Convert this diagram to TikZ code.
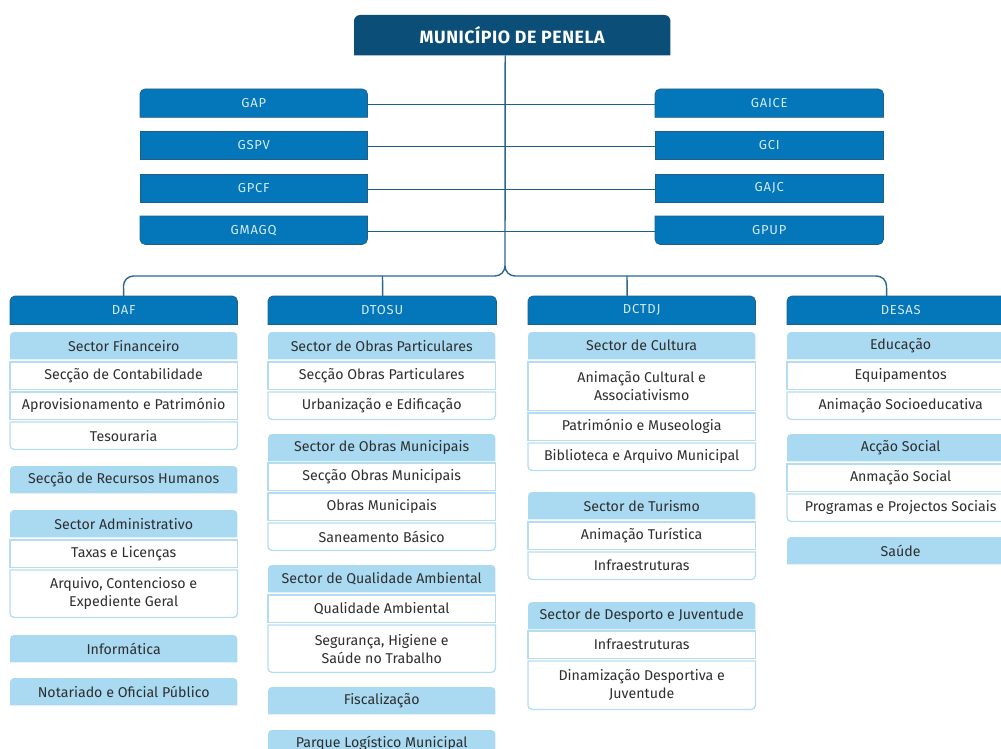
\documentclass[tikz,border=0pt]{standalone}
\usepackage{fontspec}
\setmainfont{Fira Sans}
\newfontfamily\trackfont[LetterSpace=6]{Fira Sans}
\newfontfamily\titlefont[LetterSpace=3]{Fira Sans}
\usetikzlibrary{calc}
\definecolor{titleblue}{HTML}{0B4F78}
\definecolor{midblue}{HTML}{0477BA}
\definecolor{edgeblue}{HTML}{1E5F88}
\definecolor{lineblue}{HTML}{2B6690}
\definecolor{lightblue}{HTML}{A9DAF2}
\definecolor{wedge}{HTML}{B5DDF2}
\definecolor{txtgray}{HTML}{2E2E2E}
\definecolor{paletext}{HTML}{D3EAF7}
\pgfdeclarelayer{bg}
\pgfsetlayers{bg,main}
\newcommand\shpT[3]{%
 \begin{pgfonlayer}{bg}
 \path[#2] (#1.south west) -- ([yshift=-#3]#1.north west) arc[start angle=180,end angle=90,radius=#3] -- ([xshift=-#3]#1.north east) arc[start angle=90,end angle=0,radius=#3] -- (#1.south east) -- cycle;
 \end{pgfonlayer}}
\newcommand\shpB[3]{%
 \begin{pgfonlayer}{bg}
 \path[#2] (#1.north west) -- ([yshift=#3]#1.south west) arc[start angle=180,end angle=270,radius=#3] -- ([xshift=-#3]#1.south east) arc[start angle=270,end angle=360,radius=#3] -- (#1.north east) -- cycle;
 \end{pgfonlayer}}
\newcommand\shpN[3]{%
 \begin{pgfonlayer}{bg}
 \path[#2] (#1.south west) rectangle (#1.north east);
 \end{pgfonlayer}}
% name, x, ytop, height, style, shape, text
\newcommand\itm[7]{%
 \node[itemtext, minimum height=#4pt, anchor=north west] (#1) at (#2,-#3) {#7};
 \csname shp#6\endcsname{#1}{#5}{4pt}}
\tikzset{
 itemtext/.style={inner sep=0pt, minimum width=227pt, align=center, text=txtgray, font=\fontsize{14.2}{18}\selectfont},
 lt/.style={fill=lightblue},
 wt/.style={fill=white, draw=wedge, line width=1.3pt},
 hd/.style={fill=midblue, draw=edgeblue, line width=0.7pt},
 sidetext/.style={inner sep=0pt, minimum height=28pt, anchor=north west, text=paletext, font=\trackfont\fontsize{13}{15}\selectfont},
 conn/.style={draw=lineblue, line width=1.4pt},
 sideconn/.style={draw=edgeblue, line width=1.2pt},
}
\begin{document}
\begin{tikzpicture}[x=1pt,y=1pt]
\useasboundingbox (0,0) rectangle (1001,-749);
\clip (0,0) rectangle (1001,-749);
% title
\node[inner sep=0pt, minimum width=316pt, minimum height=40pt, anchor=north west, text=white, font=\titlefont\bfseries\fontsize{17.8}{20}\selectfont] (title) at (354,-15) {MUNICÍPIO DE PENELA};
\shpT{title}{fill=titleblue}{6pt}
% side boxes
\node[sidetext, minimum width=227pt] (gap) at (140,-89) {GAP};
\node[sidetext, minimum width=227pt] (gspv) at (140,-131) {GSPV};
\node[sidetext, minimum width=227pt] (gpcf) at (140,-174) {GPCF};
\node[sidetext, minimum width=227pt] (gmagq) at (140,-216) {GMAGQ};
\node[sidetext, minimum width=228pt] (gaice) at (655,-89) {GAICE};
\node[sidetext, minimum width=228pt] (gci) at (655,-131) {GCI};
\node[sidetext, minimum width=228pt] (gajc) at (655,-174) {GAJC};
\node[sidetext, minimum width=228pt] (gpup) at (655,-216) {GPUP};
\shpT{gap}{hd}{5pt}\shpN{gspv}{hd}{5pt}\shpN{gpcf}{hd}{5pt}\shpB{gmagq}{hd}{5pt}
\shpT{gaice}{hd}{5pt}\shpN{gci}{hd}{5pt}\shpN{gajc}{hd}{5pt}\shpB{gpup}{hd}{5pt}
% department headers
\node[sidetext, minimum width=227pt] (daf) at (10,-296) {DAF};
\node[sidetext, minimum width=228pt] (dtosu) at (268,-296) {DTOSU};
\node[sidetext, minimum width=227pt] (dctdj) at (528,-296) {DCTDJ};
\node[sidetext, minimum width=227pt] (desas) at (787,-296) {DESAS};
\shpT{daf}{hd}{5pt}\shpT{dtosu}{hd}{5pt}\shpT{dctdj}{hd}{5pt}\shpT{desas}{hd}{5pt}
% connectors
\coordinate (hub) at (505,-266);
\draw[conn] ([xshift=-7pt]title.south) -- (hub);
\draw[conn] (hub) arc[start angle=0,end angle=-90,radius=10pt] -- (133.5,-276) arc[start angle=90,end angle=180,radius=10pt] -- (daf.north);
\draw[conn] (hub) arc[start angle=180,end angle=270,radius=10pt] -- (876.5,-276) arc[start angle=90,end angle=0,radius=10pt] -- ([xshift=-14pt]desas.north);
\draw[conn] (382.5,-276) -- ([xshift=0.5pt]dtosu.north);
\draw[conn] (627,-276) -- ([xshift=-14.5pt]dctdj.north);
\draw[sideconn] ([yshift=-1pt]gap.east) -- ([yshift=-1pt]gaice.west);
\draw[sideconn] ([yshift=-1pt]gspv.east) -- ([yshift=-1pt]gci.west);
\draw[sideconn] ([yshift=-1pt]gpcf.east) -- ([yshift=-1pt]gajc.west);
\draw[sideconn] ([yshift=-1pt]gmagq.east) -- ([yshift=-1pt]gpup.west);
% DAF column
\itm{a1}{10}{332}{27}{lt}{T}{Sector Financeiro}
\itm{a2}{10}{362}{27}{wt}{N}{Secção de Contabilidade}
\itm{a3}{10}{392}{27}{wt}{N}{Aprovisionamento e Património}
\itm{a4}{10}{422}{27}{wt}{B}{Tesouraria}
\itm{a5}{10}{466}{27}{lt}{T}{Secção de Recursos Humanos}
\itm{a6}{10}{510}{27}{lt}{T}{Sector Administrativo}
\itm{a7}{10}{540}{27}{wt}{N}{Taxas e Licenças}
\itm{a8}{10}{570}{47}{wt}{B}{Arquivo, Contencioso e\\Expediente Geral}
\itm{a9}{10}{635}{27}{lt}{T}{Informática}
\itm{a10}{10}{678}{27}{lt}{T}{Notariado e Oficial Público}
% DTOSU column
\itm{b1}{268}{332}{27}{lt}{T}{Sector de Obras Particulares}
\itm{b2}{268}{362}{27}{wt}{N}{Secção Obras Particulares}
\itm{b3}{268}{392}{27}{wt}{B}{Urbanização e Edificação}
\itm{b4}{268}{434}{27}{lt}{T}{Sector de Obras Municipais}
\itm{b5}{268}{463}{27}{wt}{N}{Secção Obras Municipais}
\itm{b6}{268}{493}{27}{wt}{N}{Obras Municipais}
\itm{b7}{268}{523}{27}{wt}{B}{Saneamento Básico}
\itm{b8}{268}{565}{27}{lt}{T}{Sector de Qualidade Ambiental}
\itm{b9}{268}{595}{27}{wt}{N}{Qualidade Ambiental}
\itm{b10}{268}{625}{47}{wt}{B}{Segurança, Higiene e\\Saúde no Trabalho}
\itm{b11}{268}{687}{27}{lt}{T}{Fiscalização}
\itm{b12}{268}{730}{27}{lt}{T}{Parque Logístico Municipal}
% DCTDJ column
\itm{c1}{528}{332}{27}{lt}{T}{Sector de Cultura}
\itm{c2}{528}{362}{48}{wt}{N}{Animação Cultural e\\Associativismo}
\itm{c3}{528}{413}{27}{wt}{N}{Património e Museologia}
\itm{c4}{528}{443}{27}{wt}{B}{Biblioteca e Arquivo Municipal}
\itm{c5}{528}{492}{27}{lt}{T}{Sector de Turismo}
\itm{c6}{528}{522}{27}{wt}{N}{Animação Turística}
\itm{c7}{528}{552}{27}{wt}{B}{Infraestruturas}
\itm{c8}{528}{602}{27}{lt}{T}{Sector de Desporto e Juventude}
\itm{c9}{528}{631}{27}{wt}{N}{Infraestruturas}
\itm{c10}{528}{661}{48}{wt}{B}{Dinamização Desportiva e\\Juventude}
% DESAS column
\itm{d1}{787}{332}{27}{lt}{T}{Educação}
\itm{d2}{787}{362}{27}{wt}{N}{Equipamentos}
\itm{d3}{787}{392}{27}{wt}{B}{Animação Socioeducativa}
\itm{d4}{787}{434}{27}{lt}{T}{Acção Social}
\itm{d5}{787}{464}{27}{wt}{N}{Anmação Social}
\itm{d6}{787}{494}{27}{wt}{B}{Programas e Projectos Sociais}
\itm{d7}{787}{537}{27}{lt}{T}{Saúde}
\end{tikzpicture}
\end{document}
